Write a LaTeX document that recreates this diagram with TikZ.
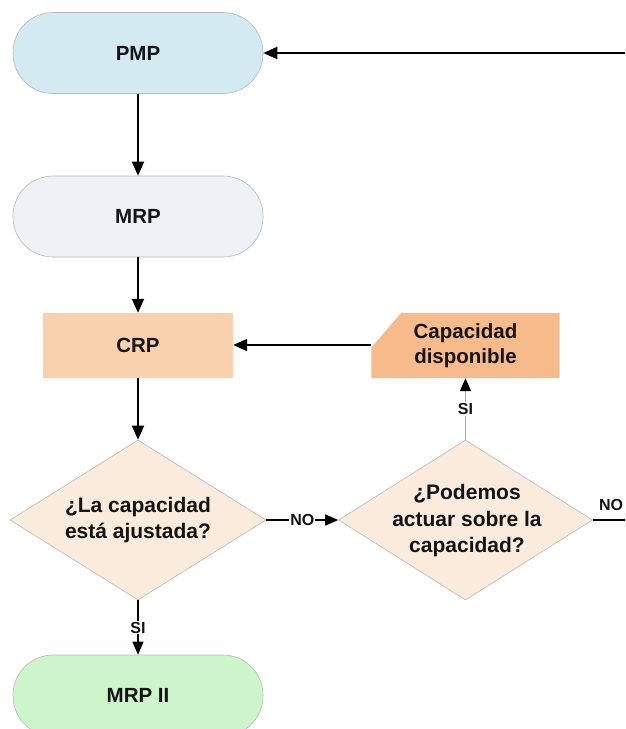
\documentclass[tikz,border=0pt]{standalone}
\usepackage{fontspec}
\setmainfont{Liberation Sans}
\usetikzlibrary{shapes.geometric,arrows.meta,backgrounds}
\definecolor{pmpcol}{HTML}{D4EAF2}
\definecolor{mrpcol}{HTML}{EEF2F7}
\definecolor{crpcol}{HTML}{F9D1AF}
\definecolor{capcol}{HTML}{F6BA8B}
\definecolor{diacol}{HTML}{FBEBDD}
\definecolor{mrpiicol}{HTML}{CCF5CC}
\definecolor{edgecol}{HTML}{B8B8B8}
\definecolor{txtcol}{HTML}{141414}
\begin{document}
\begin{tikzpicture}[x=1pt,y=-1pt,
 txt/.style={font=\fontsize{20.5}{25}\selectfont\bfseries, align=center, text=txtcol},
 dtxt/.style={font=\fontsize{21}{26.5}\selectfont\bfseries, align=center, text=txtcol, inner sep=0pt},
 term/.style={txt, draw=edgecol, line width=0.6pt, minimum width=250pt, minimum height=81pt, rounded corners=40pt},
 proc/.style={txt, minimum width=190pt, minimum height=65pt, inner sep=0pt},
 dec/.style={diamond, draw=edgecol, fill=diacol, line width=0.6pt, aspect=1.6, inner sep=0pt, minimum width=256pt, minimum height=160pt},
 flow/.style={line width=1.9pt, -{Triangle[length=14pt,width=12pt]}},
 thinflow/.style={line width=1.5pt, -{Triangle[length=13pt,width=11pt]}},
 greyflow/.style={line width=1.5pt, draw=gray!70, -{Triangle[length=13pt,width=11pt,color=black]}},
 lbl/.style={font=\fontsize{16}{16}\selectfont\bfseries, text=txtcol, fill=white, inner sep=1pt}
]
\useasboundingbox (0,0) rectangle (625,729);
\clip (0,0) rectangle (625,729);
\node[term, fill=pmpcol] (pmp) at (138,53) {PMP};
\node[term, fill=mrpcol] (mrp) at (138,216.5) {MRP};
\node[proc, fill=crpcol] (crp) at (138,345.5) {CRP};
\node[proc, minimum width=188pt] (cap) at (465.5,345.5) {Capacidad\\disponible};
\begin{scope}[on background layer]
\fill[capcol] (cap.south west) -- ([yshift=-2pt]cap.west) -- ([xshift=30pt]cap.north west) -- (cap.north east) -- (cap.south east) -- cycle;
\end{scope}
\node[dec] (d1) at (138,520) {};
\node[dtxt] (d1t) at (138,520) {¿La capacidad\\está ajustada?};
\node[dec, minimum width=254pt] (d2) at (465.5,520) {};
\node[dtxt] (d2t) at (467,521) {¿Podemos\\actuar sobre la\\capacidad?};
\node[term, fill=mrpiicol] (mrpii) at (138,695.5) {MRP II};
\coordinate (rin) at (635,53);
\coordinate (rout) at (640,520);
\draw[flow] (rin) -- (pmp.east);
\draw[flow] (pmp.south) -- (mrp.north);
\draw[flow] (mrp.south) -- (crp.north);
\draw[flow] ([yshift=0.5pt]cap.west) -- ([yshift=0.5pt]crp.east);
\draw[flow] (crp.south) -- (d1.north);
\draw[thinflow] (d1.east) -- node[lbl] {NO} (d2.west);
\draw[greyflow] (d2.north) -- node[lbl] {SI} (cap.south);
\draw[thinflow] (d1.south) -- node[lbl] {SI} (mrpii.north);
\draw[line width=1.5pt] (d2.east) -- (rout);
\node[lbl, fill=none, anchor=south west] (nor) at ([xshift=5pt,yshift=8pt]d2.east) {NO};
\end{tikzpicture}
\end{document}
